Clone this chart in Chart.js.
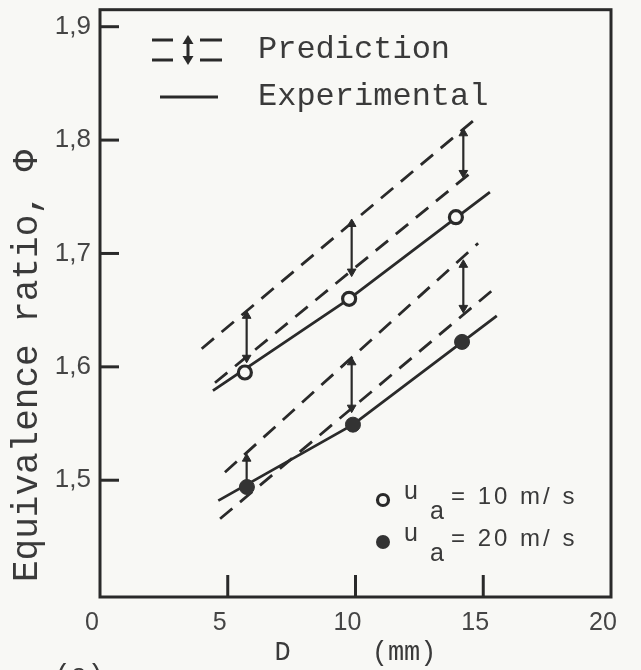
<!DOCTYPE html>
<html>
<head>
<meta charset="utf-8">
<title>Equivalence ratio vs D</title>
<script src="https://cdn.jsdelivr.net/npm/chart.js@4/dist/chart.umd.min.js"></script>
<style>
  html, body { margin: 0; padding: 0; background: #f8f8f5; }
  #wrap { width: 641px; height: 670px; }
</style>
</head>
<body>
<div id="wrap"><canvas id="c" width="641" height="670"></canvas></div>
<script>
// --- data ---
const xTicks = [0, 5, 10, 15, 20];
const yTicks = [1.5, 1.6, 1.7, 1.8, 1.9];

// measured points
const d10 = [5.67, 9.75, 13.93];
const phi10 = [1.595, 1.660, 1.732];
const d20 = [5.75, 9.9, 14.17];
const phi20 = [1.494, 1.549, 1.622];

// experimental lines (solid)
const exp10D = [4.42, 9.75, 15.26];
const exp10Phi = [1.579, 1.660, 1.754];
const exp20D = [4.63, 9.9, 15.53];
const exp20Phi = [1.482, 1.549, 1.645];

// prediction band edges (dashed)
const predHi10D = [3.98, 14.61];
const predHi10Phi = [1.616, 1.817];
const predLo10D = [4.5, 14.55];
const predLo10Phi = [1.586, 1.772];
const predHi20D = [4.89, 14.8];
const predHi20Phi = [1.507, 1.709];
const predLo20D = [4.7, 15.33];
const predLo20Phi = [1.466, 1.667];

// double arrows between band edges
const arrowD = [5.74, 9.85, 14.22, 5.74, 9.85, 14.22];
const arrowTop = [1.645, 1.726, 1.806, 1.519, 1.604, 1.690];
const arrowBottom = [1.608, 1.684, 1.771, 1.496, 1.564, 1.652];

const ink = '#2a2a2a';
const paper = '#f8f8f5';
const mono = '"Liberation Mono", "DejaVu Sans Mono", monospace';
const sans = '"Liberation Sans", Arial, sans-serif';

const pts = (xs, ys) => xs.map((x, i) => ({ x: x, y: ys[i] }));

const lineSet = (xs, ys, dashed) => ({
    type: 'line',
    data: pts(xs, ys),
    borderColor: ink,
    borderWidth: 2.8,
    borderDash: dashed ? [16, 10] : [],
    pointRadius: 0,
    tension: 0,
    order: 2
});

const datasets = [
    lineSet(predHi10D, predHi10Phi, true),
    lineSet(predLo10D, predLo10Phi, true),
    lineSet(predHi20D, predHi20Phi, true),
    lineSet(predLo20D, predLo20Phi, true),
    lineSet(exp10D, exp10Phi, false),
    lineSet(exp20D, exp20Phi, false)
];

arrowD.forEach((d, i) => {
    datasets.push({
        type: 'line',
        data: [{ x: d, y: arrowTop[i] }, { x: d, y: arrowBottom[i] }],
        borderColor: ink,
        borderWidth: 2.2,
        pointStyle: 'triangle',
        pointRotation: [0, 180],
        pointRadius: 5,
        pointBackgroundColor: ink,
        pointBorderColor: ink,
        pointBorderWidth: 1,
        order: 1
    });
});

datasets.push({
    type: 'scatter',
    data: pts(d10, phi10),
    pointRadius: 6.5,
    pointBackgroundColor: paper,
    pointBorderColor: ink,
    pointBorderWidth: 3.2,
    order: 0
});
datasets.push({
    type: 'scatter',
    data: pts(d20, phi20),
    pointRadius: 7.5,
    pointBackgroundColor: '#333',
    pointBorderColor: '#333',
    pointBorderWidth: 1,
    order: 0
});

function head(ctx, x, y, dir, w, h) {
    ctx.beginPath();
    ctx.moveTo(x, y);
    ctx.lineTo(x - w / 2, y - dir * h);
    ctx.lineTo(x + w / 2, y - dir * h);
    ctx.closePath();
    ctx.fill();
}

const paperPlugin = {
    id: 'paper',
    beforeDraw(chart) {
        const ctx = chart.ctx;
        ctx.save();
        ctx.fillStyle = paper;
        ctx.fillRect(0, 0, chart.width, chart.height);
        ctx.restore();
    },
    afterDraw(chart) {
        const { ctx, chartArea: a, scales: { x, y } } = chart;
        ctx.save();
        ctx.strokeStyle = ink;
        ctx.fillStyle = ink;
        ctx.lineWidth = 3;
        ctx.strokeRect(a.left, a.top, a.right - a.left, a.bottom - a.top);

        // inward ticks
        yTicks.forEach(v => {
            const py = y.getPixelForValue(v);
            ctx.beginPath(); ctx.moveTo(a.left, py); ctx.lineTo(a.left + 19, py); ctx.stroke();
        });
        xTicks.forEach(v => {
            if (v <= x.min || v >= x.max) return;
            const px = x.getPixelForValue(v);
            ctx.beginPath(); ctx.moveTo(px, a.bottom); ctx.lineTo(px, a.bottom - 22); ctx.stroke();
        });

        // y title
        ctx.save();
        ctx.translate(27, 582);
        ctx.rotate(-Math.PI / 2);
        ctx.font = '36px ' + mono;
        ctx.fillStyle = '#3a3a3a';
        ctx.textAlign = 'left';
        ctx.textBaseline = 'middle';
        ctx.fillText('Equivalence ratio, \u03A6', 0, 0);
        ctx.restore();

        // legend top-left
        ctx.lineWidth = 3;
        [40, 60].forEach(py => {
            ctx.beginPath(); ctx.moveTo(152, py); ctx.lineTo(173, py); ctx.stroke();
            ctx.beginPath(); ctx.moveTo(200, py); ctx.lineTo(222, py); ctx.stroke();
        });
        ctx.beginPath(); ctx.moveTo(188, 40); ctx.lineTo(188, 60); ctx.stroke();
        head(ctx, 188, 35, -1, 11, 9);
        head(ctx, 188, 65, 1, 11, 9);
        ctx.lineWidth = 2.8;
        ctx.beginPath(); ctx.moveTo(160, 97); ctx.lineTo(218, 97); ctx.stroke();

        ctx.font = '32px ' + mono;
        ctx.fillStyle = '#3a3a3a';
        ctx.textAlign = 'left';
        ctx.textBaseline = 'middle';
        ctx.fillText('Prediction', 258, 50);
        ctx.fillText('Experimental', 258, 97);

        // legend bottom-right
        const rows = [{ y: 500, txt: '= 10 m/ s', open: true }, { y: 542, txt: '= 20 m/ s', open: false }];
        rows.forEach(r => {
            ctx.beginPath();
            ctx.arc(383, r.y, r.open ? 5.5 : 7, 0, Math.PI * 2);
            if (r.open) {
                ctx.fillStyle = paper; ctx.fill();
                ctx.lineWidth = 3.2; ctx.stroke();
            } else {
                ctx.fillStyle = '#333'; ctx.fill();
            }
            ctx.fillStyle = '#3a3a3a';
            ctx.textBaseline = 'alphabetic';
            ctx.textAlign = 'left';
            ctx.font = '25px ' + sans;
            ctx.fillText('u', 404, r.y - 1);
            ctx.fillText('a', 430, r.y + 19);
            ctx.font = '24px ' + sans;
            ctx.letterSpacing = '3px';
            ctx.fillText(r.txt, 451, r.y + 4);
            ctx.letterSpacing = '0px';
        });

        // panel mark, cut off at the bottom
        ctx.font = '28px ' + mono;
        ctx.textBaseline = 'top';
        ctx.fillText('(a)', 54, 662);
        ctx.restore();
    }
};

new Chart(document.getElementById('c'), {
    data: { datasets: datasets },
    options: {
        responsive: false,
        animation: false,
        layout: { padding: { left: 0, right: 30, top: 9, bottom: 0 } },
        plugins: {
            legend: { display: false },
            tooltip: { enabled: false }
        },
        scales: {
            x: {
                type: 'linear',
                min: 0,
                max: 20,
                afterBuildTicks: s => { s.ticks = xTicks.map(v => ({ value: v })); },
                afterFit: s => { s.height = 73; s.paddingLeft = 0; s.paddingRight = 0; },
                grid: { display: false, drawTicks: false },
                border: { display: false },
                ticks: {
                    padding: 11,
                    labelOffset: -8,
                    color: '#454545',
                    font: { family: sans, size: 25 },
                    maxRotation: 0,
                    autoSkip: false
                },
                title: {
                    display: true,
                    text: 'D     (mm)',
                    color: '#3a3a3a',
                    font: { family: mono, size: 27 },
                    padding: { top: 0, bottom: 1 }
                }
            },
            y: {
                type: 'linear',
                min: 1.397,
                max: 1.915,
                afterBuildTicks: s => { s.ticks = yTicks.map(v => ({ value: v })); },
                afterFit: s => { s.width = 100; s.paddingTop = 0; s.paddingBottom = 0; },
                grid: { display: false, drawTicks: false },
                border: { display: false },
                ticks: {
                    padding: 9,
                    color: '#454545',
                    font: { family: sans, size: 26 },
                    callback: v => v.toFixed(1).replace('.', ',')
                }
            }
        }
    },
    plugins: [paperPlugin]
});
</script>
</body>
</html>
